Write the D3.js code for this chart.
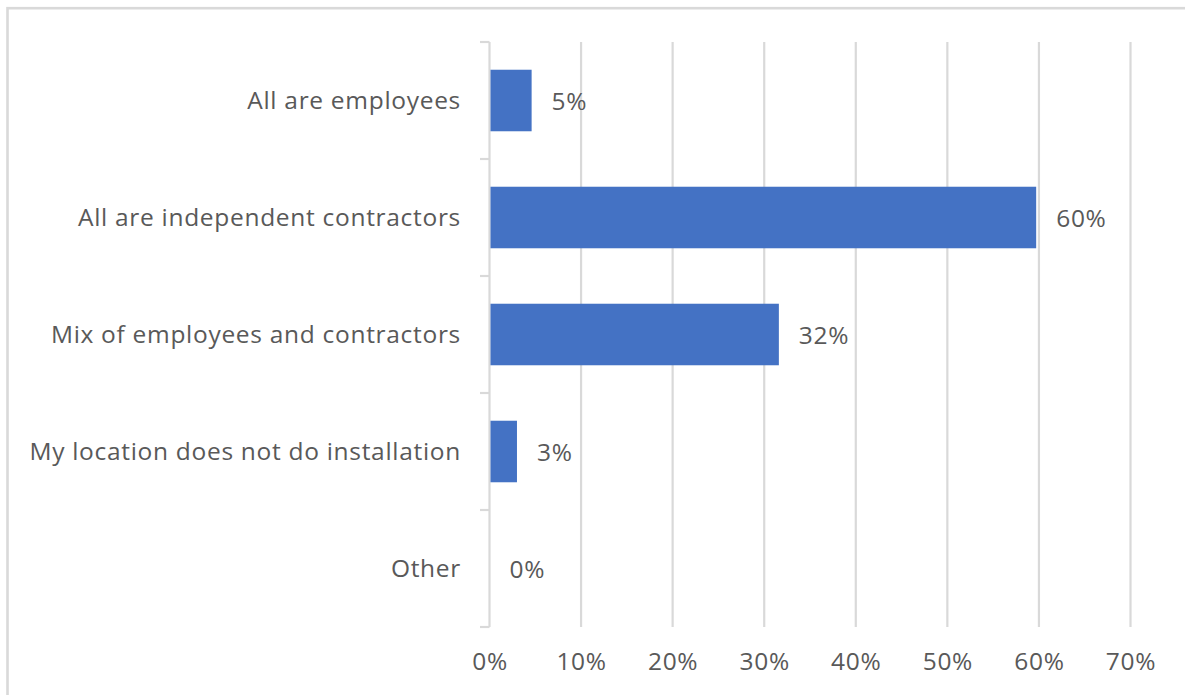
<!DOCTYPE html>
<html>
<head>
<meta charset="utf-8">
<script src="https://cdn.jsdelivr.net/npm/d3@7"></script>
<style>
  html, body { margin: 0; padding: 0; background: #ffffff; }
  svg { display: block; }
  text { font-family: "Segoe UI", "Open Sans", "Noto Sans", sans-serif; fill: #595959; letter-spacing: 0.7px; }
</style>
</head>
<body>
<svg id="chart" width="1185" height="695"></svg>
<script>
// Survey responses: how installers are engaged at a location
const categories = [
  "All are employees",
  "All are independent contractors",
  "Mix of employees and contractors",
  "My location does not do installation",
  "Other"
];
const shares = [4.6, 59.7, 31.6, 3.0, 0];   // percent of respondents
const tickValues = [0, 10, 20, 30, 40, 50, 60, 70];

const W = 1185, H = 695;
const svg = d3.select("#chart");

const plot = { left: 489.5, right: 1130.5, top: 42, bottom: 627 };
const fontSize = 24.5;
const grid = "#d9d9d9";

const x = d3.scaleLinear().domain([0, 70]).range([plot.left, plot.right]);
const y = d3.scaleBand().domain(categories)
  .range([plot.top, plot.bottom])
  .paddingInner(0.474).paddingOuter(0.237);

// chart frame (top and left edges visible)
svg.append("rect")
  .attr("x", 7.5).attr("y", 8.2)
  .attr("width", W + 20).attr("height", H + 20)
  .attr("fill", "none").attr("stroke", grid).attr("stroke-width", 2.6);

// vertical gridlines
svg.append("g")
  .selectAll("line")
  .data(tickValues.filter(d => d > 0))
  .join("line")
  .attr("x1", d => x(d)).attr("x2", d => x(d))
  .attr("y1", plot.top).attr("y2", plot.bottom)
  .attr("stroke", grid).attr("stroke-width", 2.2);

// x axis tick labels
const xAxis = svg.append("g")
  .attr("transform", `translate(0,${plot.bottom})`)
  .call(d3.axisBottom(x).tickValues(tickValues).tickSize(0).tickPadding(26)
    .tickFormat(d => d + "%"));
xAxis.select(".domain").remove();
xAxis.selectAll("text")
  .attr("font-size", fontSize)
  .style("font-family", '"Segoe UI", "Open Sans", "Noto Sans", sans-serif')
  .attr("fill", "#595959");

// category axis: line plus boundary ticks
const boundaries = categories.map(c => y(c) - y.step() * y.paddingInner() / 2)
  .concat([plot.bottom]);
svg.append("line")
  .attr("x1", plot.left).attr("x2", plot.left)
  .attr("y1", plot.top).attr("y2", plot.bottom)
  .attr("stroke", grid).attr("stroke-width", 2.2);
svg.append("g")
  .selectAll("line")
  .data(boundaries)
  .join("line")
  .attr("x1", plot.left - 9.5).attr("x2", plot.left)
  .attr("y1", d => d).attr("y2", d => d)
  .attr("stroke", grid).attr("stroke-width", 2.2);

// category labels
svg.append("g")
  .selectAll("text")
  .data(categories)
  .join("text")
  .attr("x", 461)
  .attr("y", d => y(d) + y.bandwidth() / 2 - 1)
  .attr("text-anchor", "end")
  .attr("dominant-baseline", "central")
  .attr("font-size", fontSize)
  .text(d => d);

// bars
svg.append("g")
  .selectAll("rect")
  .data(categories.map((c, i) => ({ c, v: shares[i] })))
  .join("rect")
  .attr("x", x(0) + 1)
  .attr("y", d => y(d.c))
  .attr("width", d => Math.max(0, x(d.v) - x(0) - 1))
  .attr("height", y.bandwidth())
  .attr("fill", "#4472c4");

// value labels
svg.append("g")
  .selectAll("text")
  .data(categories.map((c, i) => ({ c, v: shares[i] })))
  .join("text")
  .attr("x", d => x(d.v) + 20)
  .attr("y", d => y(d.c) + y.bandwidth() / 2)
  .attr("dominant-baseline", "central")
  .attr("font-size", fontSize)
  .text(d => Math.round(d.v) + "%");
</script>
</body>
</html>
